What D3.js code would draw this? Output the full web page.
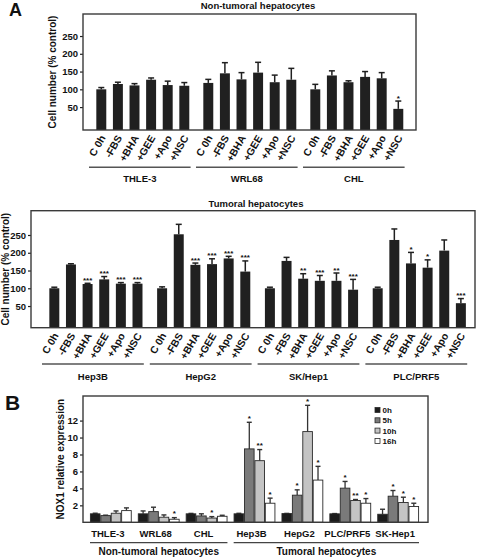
<!DOCTYPE html>
<html>
<head>
<meta charset="utf-8">
<script src="https://cdn.jsdelivr.net/npm/d3@7"></script>
<style>
  html, body { margin: 0; padding: 0; background: #fff; }
  svg text { font-family: "Liberation Sans", Arial, Helvetica, sans-serif; font-weight: bold; fill: #111; }
</style>
</head>
<body>
<svg id="chart" width="477" height="558"></svg>
<script>
// ---------------- DATA ----------------
const treatments = ["C 0h", "-FBS", "+BHA", "+GEE", "+Apo", "+NSC"];
const yTicksA = [50, 100, 150, 200, 250];

const nonTumoralLines = ["THLE-3", "WRL68", "CHL"];
const nonTumoralMeans = [
  [100, 115, 111, 127, 112, 110],
  [118, 145, 128, 147, 120, 127],
  [100, 139, 120, 135, 131, 45]
];
const nonTumoralErr = [
  [5, 5, 5, 5, 11, 9],
  [10, 30, 19, 29, 20, 32],
  [14, 13, 4, 15, 16, 22]
];
const nonTumoralSig = [
  ["", "", "", "", "", ""],
  ["", "", "", "", "", ""],
  ["", "", "", "", "", "*"]
];

const tumoralLines = ["Hep3B", "HepG2", "SK/Hep1", "PLC/PRF5"];
const tumoralMeans = [
  [100, 167, 112, 125, 113, 113],
  [100, 252, 166, 168, 184, 147],
  [100, 177, 127, 121, 121, 96],
  [100, 236, 170, 158, 206, 58]
];
const tumoralErr = [
  [3, 2, 2, 8, 3, 3],
  [4, 28, 5, 15, 6, 30],
  [3, 10, 14, 15, 22, 29],
  [3, 31, 31, 22, 30, 13]
];
const tumoralSig = [
  ["", "", "***", "***", "***", "***"],
  ["", "", "***", "***", "***", "***"],
  ["", "", "**", "***", "**", "***"],
  ["", "", "*", "*", "", "***"]
];

const noxLines = ["THLE-3", "WRL68", "CHL", "Hep3B", "HepG2", "PLC/PRF5", "SK-Hep1"];
const timepoints = ["0h", "5h", "10h", "16h"];
const yTicksB = [2, 4, 6, 8, 10, 12];
const noxMeans = [
  [1.0, 0.79, 1.07, 1.38],
  [1.0, 1.26, 0.60, 0.36],
  [1.0, 0.75, 0.50, 0.71],
  [1.0, 8.66, 7.27, 2.25],
  [1.03, 3.20, 10.70, 4.98],
  [1.0, 4.03, 2.57, 2.25],
  [0.95, 3.08, 2.33, 1.86]
];
const noxErr = [
  [0.07, 0.05, 0.27, 0.32],
  [0.34, 0.52, 0.27, 0.19],
  [0.05, 0.25, 0.17, 0.12],
  [0.06, 3.14, 1.31, 0.60],
  [0.02, 0.63, 3.10, 1.62],
  [0.03, 0.79, 0.12, 0.55],
  [0.59, 0.67, 0.63, 0.39]
];
const noxSig = [
  ["", "", "", ""],
  ["", "", "", "*"],
  ["", "", "*", ""],
  ["", "*", "**", "*"],
  ["", "*", "*", "*"],
  ["", "*", "**", "*"],
  ["", "*", "*", "*"]
];
const groupTitles = ["Non-tumoral hepatocytes", "Tumoral hepatocytes"];

// ---------------- DRAW ----------------
const svg = d3.select("#chart");
svg.append("rect").attr("width", 477).attr("height", 558).attr("fill", "#fff");

const FRAME = "#3a3a3a";

function cellPanel(opts) {
  const { lines, means, errs, sigs, frame, domain, title, titleY, yTitleX, groupRange, lineY, labelY } = opts;
  const g = svg.append("g");
  const y = d3.scaleLinear().domain(domain).range([frame.bottom, frame.top]);
  const xg = d3.scaleBand().domain(lines).range(groupRange).paddingInner(opts.groupPad).paddingOuter(0);
  const xi = d3.scaleBand().domain(treatments).range([0, xg.bandwidth()]).paddingInner(0.4).paddingOuter(0.2);

  // title
  g.append("text").attr("x", (frame.left + frame.right) / 2 + opts.titleDx).attr("y", titleY)
    .attr("text-anchor", "middle").attr("font-size", 9.5).text(title);

  // y axis
  const axis = d3.axisLeft(y).tickValues(yTicksA).tickSize(3).tickPadding(2);
  const ag = g.append("g").attr("transform", `translate(${frame.left},0)`).call(axis);
  ag.select(".domain").remove();
  ag.selectAll(".tick line").attr("stroke", "#222").attr("stroke-width", 1.2);
  ag.selectAll(".tick text").attr("font-size", 9.5).attr("font-family", "Liberation Sans, Arial, sans-serif").attr("font-weight", "bold").attr("fill", "#111");

  g.append("text").attr("transform", `translate(${yTitleX},${(frame.top + frame.bottom) / 2}) rotate(-90)`)
    .attr("text-anchor", "middle").attr("font-size", 10).text("Cell  number (% control)");

  // bars
  lines.forEach((ln, gi) => {
    treatments.forEach((tr, i) => {
      const x0 = xg(ln) + xi(tr);
      const w = xi.bandwidth();
      const cx = x0 + w / 2;
      const v = means[gi][i], e = errs[gi][i];
      g.append("rect").attr("x", x0).attr("y", y(v)).attr("width", w).attr("height", frame.bottom - y(v)).attr("fill", "#202020");
      g.append("line").attr("x1", cx).attr("x2", cx).attr("y1", y(v)).attr("y2", y(v + e)).attr("stroke", "#202020").attr("stroke-width", 1.5);
      g.append("line").attr("x1", cx - 3).attr("x2", cx + 3).attr("y1", y(v + e)).attr("y2", y(v + e)).attr("stroke", "#202020").attr("stroke-width", 1.5);
      if (sigs[gi][i]) {
        g.append("text").attr("x", cx).attr("y", y(v + e) - 0.5).attr("text-anchor", "middle").attr("font-size", 8).attr("font-weight", "normal").text(sigs[gi][i]);
      }
      g.append("text").attr("transform", `translate(${cx + 1.5},${frame.bottom + 6}) rotate(-60)`)
        .attr("text-anchor", "end").attr("dy", "0.35em").attr("font-size", 10.3).text(tr);
    });
    const gx0 = xg(ln) - 4, gx1 = xg(ln) + xg.bandwidth() - 2;
    g.append("line").attr("x1", gx0).attr("x2", gx1).attr("y1", lineY).attr("y2", lineY).attr("stroke", "#555").attr("stroke-width", 1.6);
    g.append("text").attr("x", (gx0 + gx1) / 2).attr("y", labelY).attr("text-anchor", "middle").attr("font-size", 9.5).text(ln);
  });

  // frame
  g.append("rect").attr("x", frame.left).attr("y", frame.top).attr("width", frame.right - frame.left).attr("height", frame.bottom - frame.top)
    .attr("fill", "none").attr("stroke", FRAME).attr("stroke-width", 1.4);
}

// Panel letters
svg.append("text").attr("x", 9).attr("y", 16).attr("font-size", 18).text("A");
svg.append("text").attr("x", 5).attr("y", 409.5).attr("font-size", 21).text("B");

cellPanel({
  lines: nonTumoralLines, means: nonTumoralMeans, errs: nonTumoralErr, sigs: nonTumoralSig,
  frame: { left: 83, right: 416, top: 14, bottom: 130 },
  domain: [-14.5, 312], title: "Non-tumoral hepatocytes", titleY: 9, titleDx: 8.5,
  yTitleX: 56, groupRange: [93, 406.6], groupPad: 0.069, lineY: 167.3, labelY: 181.5
});

cellPanel({
  lines: tumoralLines, means: tumoralMeans, errs: tumoralErr, sigs: tumoralSig,
  frame: { left: 31, right: 475, top: 210.7, bottom: 327.7 },
  domain: [-11, 318.4], title: "Tumoral hepatocytes", titleY: 206.5, titleDx: 3,
  yTitleX: 9, groupRange: [46, 469.2], groupPad: 0.074, lineY: 364, labelY: 380
});

// ---------------- PANEL B ----------------
(function () {
  const frame = { left: 83, right: 428, top: 396, bottom: 522.3 };
  const g = svg.append("g");
  const y = d3.scaleLinear().domain([0, 14.9]).range([frame.bottom, frame.top]);
  const xg = d3.scaleBand().domain(noxLines).range([90, 419]).paddingInner(0.13).paddingOuter(0);
  const xi = d3.scaleBand().domain(timepoints).range([0, xg.bandwidth()]).padding(0);
  const fills = d3.scaleOrdinal().domain(timepoints).range(["#1c1c1c", "#7a7a7a", "#c4c4c4", "#ffffff"]);

  const axis = d3.axisLeft(y).tickValues(yTicksB).tickSize(3).tickPadding(2);
  const ag = g.append("g").attr("transform", `translate(${frame.left},0)`).call(axis);
  ag.select(".domain").remove();
  ag.selectAll(".tick line").attr("stroke", "#222").attr("stroke-width", 1.2);
  ag.selectAll(".tick text").attr("font-size", 9.5).attr("font-family", "Liberation Sans, Arial, sans-serif").attr("font-weight", "bold").attr("fill", "#111");

  g.append("text").attr("transform", `translate(63.5,${(frame.top + frame.bottom) / 2}) rotate(-90)`)
    .attr("text-anchor", "middle").attr("font-size", 10).text("NOX1 relative expression");

  noxLines.forEach((ln, gi) => {
    timepoints.forEach((tp, i) => {
      const x0 = xg(ln) + xi(tp);
      const w = xi.bandwidth();
      const cx = x0 + w / 2;
      const v = noxMeans[gi][i], e = noxErr[gi][i];
      g.append("line").attr("x1", cx).attr("x2", cx).attr("y1", y(v)).attr("y2", y(v + e)).attr("stroke", "#333").attr("stroke-width", 1.3);
      g.append("line").attr("x1", cx - 2.5).attr("x2", cx + 2.5).attr("y1", y(v + e)).attr("y2", y(v + e)).attr("stroke", "#333").attr("stroke-width", 1.4);
      g.append("rect").attr("x", x0 + 0.4).attr("y", y(v)).attr("width", w - 0.8).attr("height", frame.bottom - y(v))
        .attr("fill", fills(tp)).attr("stroke", "#2a2a2a").attr("stroke-width", 0.9);
      if (noxSig[gi][i]) {
        g.append("text").attr("x", cx).attr("y", y(v + e) - 1.5).attr("text-anchor", "middle").attr("font-size", 8).attr("font-weight", "normal").text(noxSig[gi][i]);
      }
    });
    g.append("text").attr("x", xg(ln) + xg.bandwidth() / 2 - 3).attr("y", 537.3).attr("text-anchor", "middle").attr("font-size", 9.5).text(ln);
  });

  // group lines
  const spans = [[noxLines[0], noxLines[2]], [noxLines[3], noxLines[6]]];
  spans.forEach((s, k) => {
    const x0 = xg(s[0]), x1 = xg(s[1]) + xg.bandwidth();
    g.append("line").attr("x1", x0).attr("x2", x1).attr("y1", 542.7).attr("y2", 542.7).attr("stroke", "#444").attr("stroke-width", 1.3);
    g.append("text").attr("x", (x0 + x1) / 2).attr("y", 554.5).attr("text-anchor", "middle").attr("font-size", 10).text(groupTitles[k]);
  });

  // legend
  timepoints.forEach((tp, i) => {
    const ly = 410 + i * 10.3;
    g.append("rect").attr("x", 375).attr("y", ly - 2.5).attr("width", 5).attr("height", 5)
      .attr("fill", fills(tp)).attr("stroke", "#2a2a2a").attr("stroke-width", 0.8);
    g.append("text").attr("x", 382.5).attr("y", ly + 3).attr("font-size", 8).text(tp);
  });

  g.append("rect").attr("x", frame.left).attr("y", frame.top).attr("width", frame.right - frame.left).attr("height", frame.bottom - frame.top)
    .attr("fill", "none").attr("stroke", FRAME).attr("stroke-width", 1.4);
})();
</script>
</body>
</html>
